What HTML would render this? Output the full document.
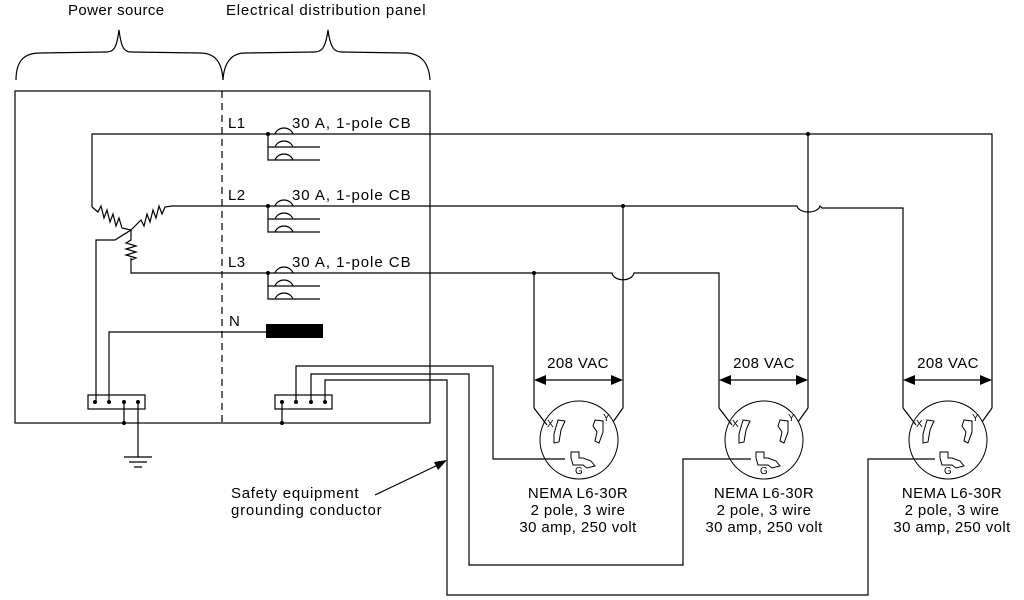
<!DOCTYPE html>
<html><head><meta charset="utf-8"><style>
html,body{margin:0;padding:0;background:#fff;}
svg{display:block}
text{font-family:"Liberation Sans",sans-serif;fill:#000}
</style></head><body>
<svg width="1024" height="600" viewBox="0 0 1024 600" xmlns="http://www.w3.org/2000/svg">
<defs>
<g id="rec" fill="none" stroke="#000" stroke-width="1">
  <circle cx="0" cy="0" r="39"/>
  <path d="M-21,-20 L-14,-19 L-18,-10 L-20,2 L-25,3 L-25,-6 Z"/>
  <path d="M16,-20 L24,-19 L24,-8 L20,3 L16,1 L18,-8 L14,-14 Z"/>
  <path d="M-8,12 L0,12 L0,18 L4,18 L12,21 L16,26 L8,28 L4,25 L-6,25 L-8,18 Z"/>
</g>
</defs>
<g fill="none" stroke="#000" stroke-width="1.2">
<path d="M16,80 C16,60 25,53 40,53 L107,52 C115,52 117,45 119,30 C121,45 123,52 131,52 L200,53 C215,53 222,62 223,80"/>
<path d="M223,80 C224,62 232,53 245,53 L315,52 C323,52 326,45 328,30 C330,45 333,52 341,52 L405,53 C420,53 429,62 430,80"/>
<rect x="15" y="91" width="415" height="332"/>
<line x1="222" y1="91" x2="222" y2="423" stroke-dasharray="7,5"/>
<path d="M92,207 L92,134 L992,134 L992,408"/>
<path d="M808,134 L808,408"/>
<path d="M172,206 L623,206 L623,408"/>
<path d="M623,206 L797,206 C799,214 818,214 820,206 L822,208 L903,208 L903,408"/>
<path d="M131,258 L131,273 L612,273 C614,282 632,282 634,273 L719,273 L719,408"/>
<path d="M534,273 L534,408"/>
<path d="M92,207 L98,212 L101,206 L104,218 L107,210 L110,222 L113,214 L116,226 L119,218 L122,228 L131,230"/>
<path d="M172,206 L165,207 L162,214 L159,206 L156,218 L153,210 L150,222 L147,214 L144,226 L141,220 L131,230"/>
<path d="M131,230 L131,240 L126,243 L136,246 L126,249 L136,252 L126,255 L136,258 L131,260"/>
<path d="M131,230 L115,240 L96,240 L96,402"/>
<g>
<path d="M268,134 L268,160 L320,160 M268,147 L320,147"/>
<path d="M275,134 C278,126 290,126 293,134 M275,147 C278,139 290,139 293,147 M275,160 C278,152 290,152 293,160"/>
</g>
<g>
<path d="M268,206 L268,232 L320,232 M268,219 L320,219"/>
<path d="M275,206 C278,198 290,198 293,206 M275,219 C278,211 290,211 293,219 M275,232 C278,224 290,224 293,232"/>
</g>
<g>
<path d="M268,273 L268,299 L320,299 M268,286 L320,286"/>
<path d="M275,273 C278,265 290,265 293,273 M275,286 C278,278 290,278 293,286 M275,299 C278,291 290,291 293,299"/>
</g>
<path d="M109,402 L109,332 L268,332"/>
<rect x="88" y="395" width="57" height="14"/>
<rect x="275" y="395" width="57" height="14"/>
<path d="M124,402 L124,423 M138,402 L138,457 M124,457 L152,457 M129,462 L147,462 M134,467 L142,467"/>
<path d="M282,402 L282,423"/>
<path d="M296,402 L296,366 L493,366 L493,459 L565,459"/>
<path d="M311,402 L311,374 L469,374 L469,565 L683,565 L683,459 L751,459"/>
<path d="M325,402 L325,380 L447,380 L447,595 L868,595 L868,459 L935,459"/>
<path d="M375,495 L440,464"/>
<path d="M534,408 L547,425 M623,408 L613,422"/>
<path d="M719,408 L732,425 M808,408 L798,422"/>
<path d="M903,408 L916,425 M992,408 L982,422"/>
<path d="M545,380 L612,380 M730,380 L797,380 M914,380 L981,380"/>
</g>
<g fill="#000">
<rect x="266" y="324" width="57" height="14"/>
<circle cx="268" cy="134" r="2"/><circle cx="268" cy="206" r="2"/><circle cx="268" cy="273" r="2"/>
<circle cx="808" cy="134" r="2"/><circle cx="623" cy="206" r="2"/><circle cx="534" cy="273" r="2"/>
<circle cx="95" cy="402" r="2"/><circle cx="109" cy="402" r="2"/><circle cx="124" cy="402" r="2"/><circle cx="138" cy="402" r="2"/>
<circle cx="282" cy="402" r="2"/><circle cx="296" cy="402" r="2"/><circle cx="311" cy="402" r="2"/><circle cx="325" cy="402" r="2"/>
<circle cx="124" cy="423" r="2"/><circle cx="282" cy="423" r="2"/>
<path d="M447,460 L434,462 L438,470 Z"/>
<path d="M534,380 L546,375 L546,385 Z M623,380 L611,375 L611,385 Z"/>
<path d="M719,380 L731,375 L731,385 Z M808,380 L796,375 L796,385 Z"/>
<path d="M903,380 L915,375 L915,385 Z M992,380 L980,375 L980,385 Z"/>
</g>
<use href="#rec" x="579" y="440"/>
<use href="#rec" x="764" y="440"/>
<use href="#rec" x="948" y="440"/>
<g font-size="10">
<text x="547" y="427">X</text><text x="603" y="421">Y</text><text x="575" y="474">G</text>
<text x="732" y="427">X</text><text x="788" y="421">Y</text><text x="760" y="474">G</text>
<text x="916" y="427">X</text><text x="972" y="421">Y</text><text x="944" y="474">G</text>
</g>
<g font-size="15" letter-spacing="0.4">
<text x="68" y="15">Power source</text>
<text x="226" y="15" textLength="200" lengthAdjust="spacing">Electrical distribution panel</text>
<text x="228" y="128">L1</text><text x="228" y="200">L2</text><text x="228" y="267">L3</text><text x="229" y="326">N</text>
<text x="292" y="128" textLength="119" lengthAdjust="spacing">30 A, 1-pole CB</text>
<text x="292" y="200" textLength="119" lengthAdjust="spacing">30 A, 1-pole CB</text>
<text x="292" y="267" textLength="119" lengthAdjust="spacing">30 A, 1-pole CB</text>
<text x="578" y="368" text-anchor="middle">208 VAC</text>
<text x="764" y="368" text-anchor="middle">208 VAC</text>
<text x="948" y="368" text-anchor="middle">208 VAC</text>
<text x="231" y="498" textLength="128" lengthAdjust="spacing">Safety equipment</text>
<text x="231" y="515" textLength="151" lengthAdjust="spacing">grounding conductor</text>
<g text-anchor="middle">
<text x="578" y="498">NEMA L6-30R</text><text x="578" y="515">2 pole, 3 wire</text><text x="578" y="532">30 amp, 250 volt</text>
<text x="764" y="498">NEMA L6-30R</text><text x="764" y="515">2 pole, 3 wire</text><text x="764" y="532">30 amp, 250 volt</text>
<text x="952" y="498">NEMA L6-30R</text><text x="952" y="515">2 pole, 3 wire</text><text x="952" y="532">30 amp, 250 volt</text>
</g>
</g>
</svg>
</body></html>
